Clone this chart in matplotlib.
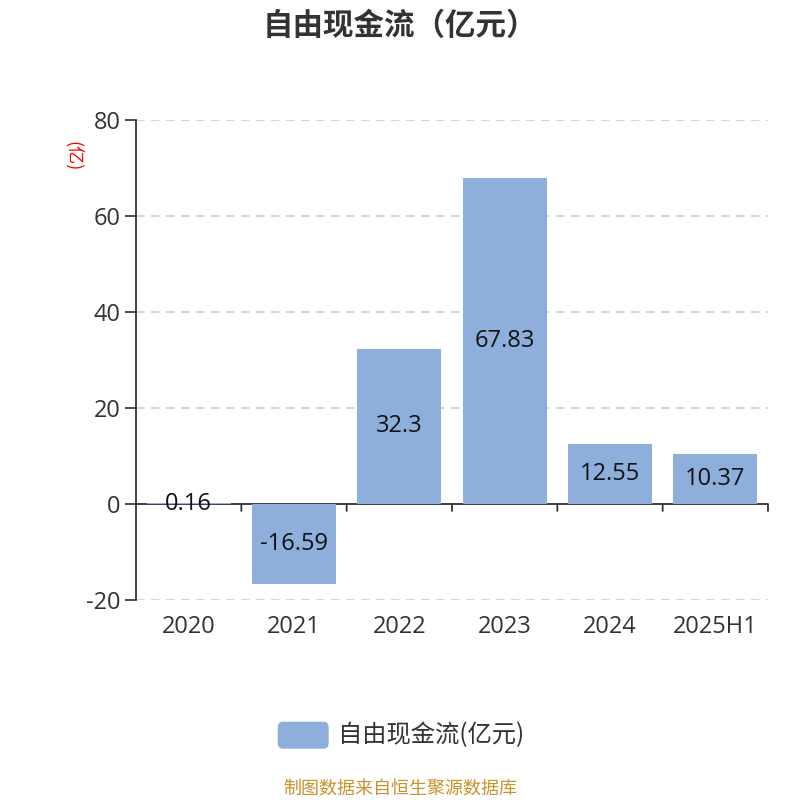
import matplotlib
matplotlib.use("Agg")
import matplotlib.pyplot as plt
from matplotlib.patches import FancyBboxPatch
import matplotlib.transforms as mtrans

plt.rcParams['font.family'] = ['Noto Sans CJK SC', 'DejaVu Sans']
num_font = ['Open Sans', 'Noto Sans CJK SC', 'DejaVu Sans']

# data
years = ["2020", "2021", "2022", "2023", "2024", "2025H1"]
values = [0.16, -16.59, 32.3, 67.83, 12.55, 10.37]
value_labels = ["0.16", "-16.59", "32.3", "67.83", "12.55", "10.37"]
yticks = [-20, 0, 20, 40, 60, 80]

bar_color = "#8eaedb"
txt_color = "#333333"

fig = plt.figure(figsize=(8, 8), dpi=100)
ax = fig.add_axes([0.17, 0.25, 0.79, 0.60])

x = list(range(len(years)))
ax.bar(x, values, width=0.8, color=bar_color, zorder=6)

for i, v in enumerate(values):
    ax.text(i, v / 2, value_labels[i], ha="center", va="center",
            fontsize=17, color="#111111", zorder=7, family=num_font)

ax.set_xlim(-0.5, len(years) - 0.5)
ax.set_ylim(-20, 80)
ax.set_yticks(yticks)
ax.set_yticklabels([str(t) for t in yticks], fontsize=17, color=txt_color,
                   family=num_font)
ax.tick_params(axis="y", length=8, width=1.2, color=txt_color, pad=3)
ax.set_xticks([])

# grid lines
for t in yticks:
    if t != 0:
        ax.axhline(t, color="#cccccc", linestyle=(0, (5, 4)), linewidth=1.2, zorder=1)

# zero axis line with boundary ticks
ax.axhline(0, color=txt_color, linewidth=1.3, zorder=5)
ax.spines["top"].set_visible(False)
ax.spines["right"].set_visible(False)
ax.spines["bottom"].set_visible(False)
ax.spines["left"].set_color(txt_color)
ax.spines["left"].set_linewidth(1.3)

tick_pt = 7 / 100 * 72
for b in range(1, len(years) + 1):
    bx = b - 0.5
    ax.annotate("", xy=(bx, 0), xycoords="data",
                xytext=(0, -tick_pt), textcoords="offset points",
                arrowprops=dict(arrowstyle="-", color=txt_color, lw=1.3,
                                shrinkA=0, shrinkB=0))

# category labels below plot
blend = mtrans.blended_transform_factory(ax.transData, ax.transAxes)
for i, yr in enumerate(years):
    ax.text(i, -0.056, yr, transform=blend, ha="center", va="center",
            fontsize=17, color=txt_color, family=num_font)

# y unit label
fig.text(0.091, 0.805, "(亿)", rotation=-90, ha="center", va="center",
         fontsize=13, color="red")

# title
fig.text(0.5, 0.967, "自由现金流（亿元）", ha="center", va="center",
         fontsize=22, fontweight="bold", color=txt_color)

# legend
fig.patches.append(FancyBboxPatch((0.348, 0.065), 0.062, 0.032,
                                  boxstyle="round,pad=0,rounding_size=0.006",
                                  transform=fig.transFigure, color=bar_color))
fig.text(0.422, 0.081, "自由现金流(亿元)", ha="left", va="center",
         fontsize=17.5, color=txt_color)

# footer
fig.text(0.5, 0.014, "制图数据来自恒生聚源数据库", ha="center", va="center",
         fontsize=13, color="#c8922a")

fig.savefig("out.png", dpi=100)
